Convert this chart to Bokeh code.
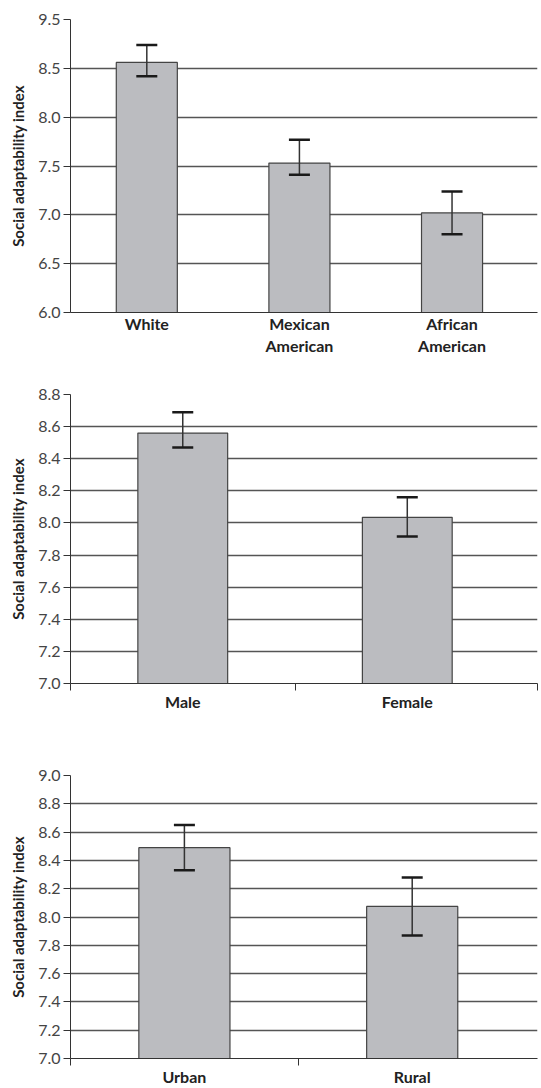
from bokeh.plotting import figure
from bokeh.layouts import column
from bokeh.models import FixedTicker, Whisker, TeeHead, ColumnDataSource, Range1d
from bokeh.embed import file_html
from bokeh.resources import INLINE

# ---- data ----
eth_cats = ["White", "Mexican\nAmerican", "African\nAmerican"]
eth_means = [8.56, 7.53, 7.02]
eth_upper = [8.74, 7.77, 7.24]
eth_lower = [8.42, 7.41, 6.80]
eth_ticks = [6.0, 6.5, 7.0, 7.5, 8.0, 8.5, 9.0]
eth_tick_labels = ["6.0", "6.5", "7.0", "7.5", "8.0", "8.5", "9.5"]

sex_cats = ["Male", "Female"]
sex_means = [8.56, 8.035]
sex_upper = [8.69, 8.16]
sex_lower = [8.47, 7.915]
sex_ticks = [7.0, 7.2, 7.4, 7.6, 7.8, 8.0, 8.2, 8.4, 8.6, 8.8]
sex_tick_labels = ["7.0", "7.2", "7.4", "7.6", "7.8", "8.0", "8.2", "8.4", "8.6", "8.8"]

area_cats = ["Urban", "Rural"]
area_means = [8.49, 8.075]
area_upper = [8.65, 8.28]
area_lower = [8.33, 7.87]
area_ticks = [7.0, 7.2, 7.4, 7.6, 7.8, 8.0, 8.2, 8.4, 8.6, 8.8, 9.0]
area_tick_labels = ["7.0", "7.2", "7.4", "7.6", "7.8", "8.0", "8.2", "8.4", "8.6", "8.8", "9.0"]

Y_LABEL = "Social adaptability index"
FONT = "Lato"
BAR_FILL = "#bbbcc0"
W = 539


def make(cats, means, upper, lower, yticks, ylabels, x_end, minor, height, btop, bbot):
    xs = list(range(len(cats)))
    src = ColumnDataSource(dict(x=xs, top=means, upper=upper, lower=lower))
    p = figure(width=W, height=height, output_backend="svg", toolbar_location=None,
               x_range=Range1d(-0.5, x_end), y_range=Range1d(yticks[0], yticks[-1]),
               min_border_left=70, min_border_right=2, min_border_top=btop,
               min_border_bottom=bbot)
    p.outline_line_color = None
    p.background_fill_color = "white"
    p.border_fill_color = "white"

    p.vbar(x="x", top="top", bottom=yticks[0], width=0.4, source=src,
           fill_color=BAR_FILL, line_color="#444444", line_width=1.2)
    w = Whisker(base="x", upper="upper", lower="lower", source=src,
                line_color="#333333", line_width=1.5, level="overlay",
                upper_head=TeeHead(size=21, line_color="#1a1a1a", line_width=2.5),
                lower_head=TeeHead(size=21, line_color="#1a1a1a", line_width=2.5))
    p.add_layout(w)

    # y axis
    p.yaxis.ticker = FixedTicker(ticks=yticks, minor_ticks=[])
    p.yaxis.major_label_overrides = {t: l for t, l in zip(yticks, ylabels)}
    p.yaxis.major_tick_in = 0
    p.yaxis.major_tick_out = 7
    p.yaxis.major_tick_line_color = "#333333"
    p.yaxis.axis_line_color = "#333333"
    p.yaxis.major_label_text_font = FONT
    p.yaxis.major_label_text_font_size = "16px"
    p.yaxis.major_label_text_color = "#444444"
    p.yaxis.major_label_standoff = 3
    p.yaxis.axis_label = Y_LABEL
    p.yaxis.axis_label_text_font = FONT
    p.yaxis.axis_label_text_font_size = "15px"
    p.yaxis.axis_label_text_font_style = "bold"
    p.yaxis.axis_label_text_color = "#222222"
    p.yaxis.axis_label_standoff = 8

    # x axis
    p.xaxis.ticker = FixedTicker(ticks=xs, minor_ticks=minor)
    p.xaxis.major_label_overrides = {x: c for x, c in zip(xs, cats)}
    p.xaxis.major_tick_in = 0
    p.xaxis.major_tick_out = 0
    p.xaxis.minor_tick_in = 0
    p.xaxis.minor_tick_out = 7
    p.xaxis.minor_tick_line_color = "#333333"
    p.xaxis.axis_line_color = "#333333"
    p.xaxis.major_label_text_font = FONT
    p.xaxis.major_label_text_font_size = "16px"
    p.xaxis.major_label_text_font_style = "bold"
    p.xaxis.major_label_text_color = "#222222"
    p.xaxis.major_label_standoff = 1

    p.xgrid.grid_line_color = None
    p.ygrid.ticker = FixedTicker(ticks=yticks)
    p.ygrid.grid_line_color = "#555555"
    p.ygrid.grid_line_width = 1.3
    return p


p1 = make(eth_cats, eth_means, eth_upper, eth_lower, eth_ticks, eth_tick_labels,
          2.56, [], 370, 19, 58)
p2 = make(sex_cats, sex_means, sex_upper, sex_lower, sex_ticks, sex_tick_labels,
          1.58, [-0.5, 0.5, 1.58], 382, 24, 69)
p3 = make(area_cats, area_means, area_upper, area_lower, area_ticks, area_tick_labels,
          1.55, [-0.5, 0.5], 336, 23, 24)

layout = column(p1, p2, p3, spacing=0)
open("out.html", "w").write(file_html(layout, INLINE))
